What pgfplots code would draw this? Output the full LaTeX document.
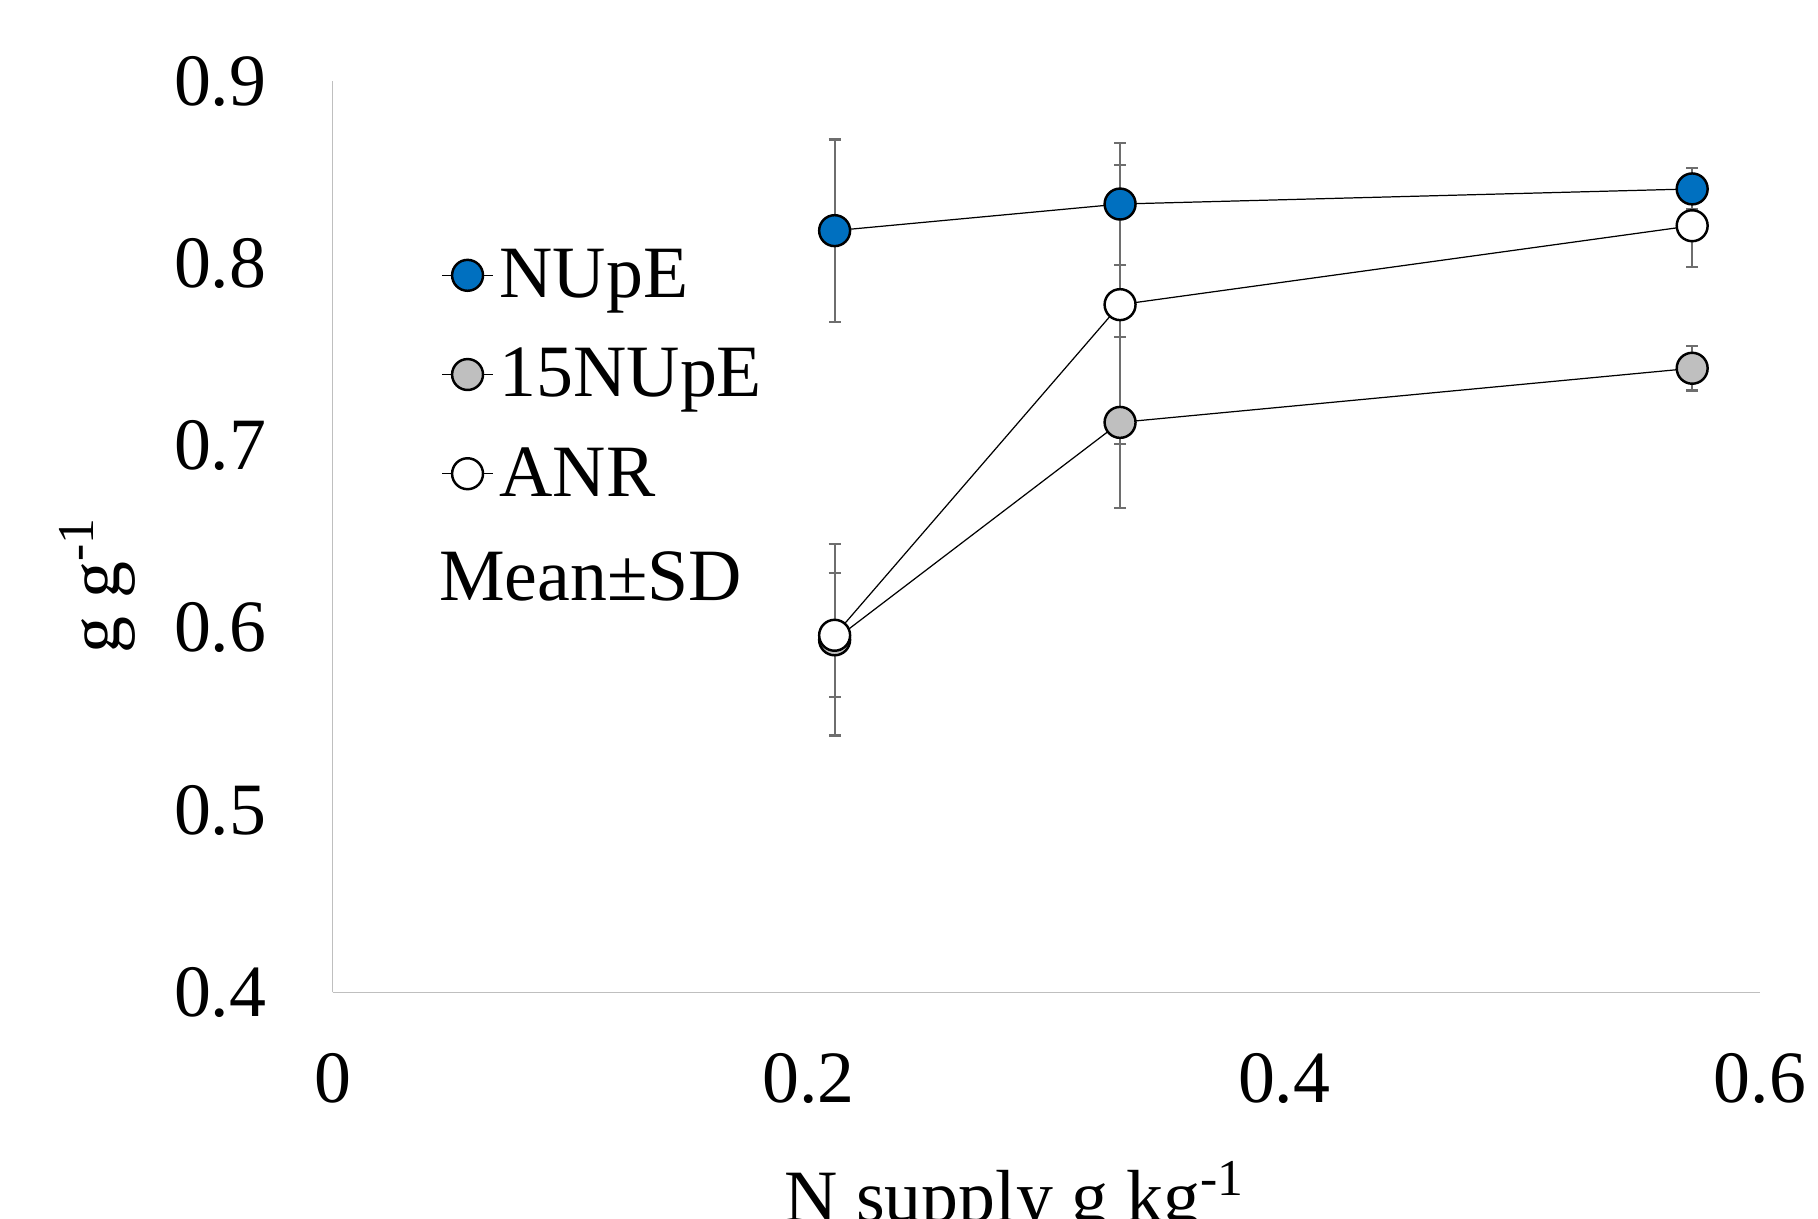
\documentclass[border=0pt]{standalone}
\usepackage{fontspec}
\setmainfont{Liberation Serif}
\usepackage{pgfplots}
\pgfplotsset{compat=1.18}
\definecolor{nupe}{HTML}{0070C0}
\definecolor{grayfill}{HTML}{BFBFBF}
\definecolor{axisgray}{HTML}{BFBFBF}
\definecolor{errgray}{HTML}{6E6E6E}
\newcommand{\fs}{\fontsize{21}{25}\selectfont}
\pgfplotstableread{
x y e
0.211 0.818 0.050
0.331 0.8326 0.0335
0.5715 0.8409 0.0113
}\nupe
\pgfplotstableread{
x y e
0.211 0.5935 0.0525
0.331 0.7128 0.047
0.5715 0.7425 0.0122
}\fnupe
\pgfplotstableread{
x y e
0.211 0.596 0.034
0.331 0.7774 0.0764
0.5715 0.8207 0.0228
}\anr
\begin{document}
\begin{tikzpicture}
\begin{axis}[
 width=142.73mm, height=91.13mm, scale only axis,
 xmin=0, xmax=0.6, ymin=0.4, ymax=0.9,
 axis x line=bottom, axis y line=left,
 axis line style={-, draw=axisgray, line width=0.4pt},
 xtick={0,0.2,0.4,0.6}, xticklabels={0,0.2,0.4,0.6},
 ytick={0.4,0.5,0.6,0.7,0.8,0.9}, yticklabels={0.4,0.5,0.6,0.7,0.8,0.9},
 major tick length=0pt,
 tick label style={font=\fs},
 xticklabel style={inner sep=0pt, anchor=north, yshift=-6.05mm},
 yticklabel style={inner sep=0pt, anchor=east, xshift=-6.57mm},
 xlabel={N supply g kg\textsuperscript{-1}},
 xlabel style={font=\fs, at={(axis description cs:0.478,0)}, anchor=base, yshift=-22.95mm},
 ylabel={g g\textsuperscript{-1}},
 ylabel style={font=\fs, at={([xshift=-21.27mm]axis description cs:0,0.447)}, anchor=base},
 legend style={draw=none, fill=none, inner sep=0pt, at={(axis description cs:0.0757,0.8345)}, anchor=north west, font=\fs, row sep=0pt, column sep=0.6mm, nodes={inner sep=0pt, text height=6.5mm, text depth=3.42mm}},
 legend cell align=left,
 legend image code/.code={\draw[yshift=0.7mm,mark repeat=2,mark phase=2,#1] plot coordinates {(0mm,0mm) (2.55mm,0mm) (5.1mm,0mm)};},
 clip=false,
]
% error bars first, behind all markers
\addplot[draw=none, no marks, forget plot, error bars/.cd, y dir=both, y explicit,
  error bar style={draw=errgray, line width=0.6pt},
  error mark options={rotate=90, mark size=0.6mm, draw=errgray, line width=0.6pt}]
  table[x=x, y=y, y error=e] {\nupe};
\addplot[draw=none, no marks, forget plot, error bars/.cd, y dir=both, y explicit,
  error bar style={draw=errgray, line width=0.6pt},
  error mark options={rotate=90, mark size=0.6mm, draw=errgray, line width=0.6pt}]
  table[x=x, y=y, y error=e] {\fnupe};
\addplot[draw=none, no marks, forget plot, error bars/.cd, y dir=both, y explicit,
  error bar style={draw=errgray, line width=0.6pt},
  error mark options={rotate=90, mark size=0.6mm, draw=errgray, line width=0.6pt}]
  table[x=x, y=y, y error=e] {\anr};
% lines and markers
\addplot[black, line width=0.35pt, mark=*, mark size=4.4pt, mark options={fill=nupe, draw=black, line width=0.7pt}] table[x=x, y=y] {\nupe};
\addlegendentry{NUpE}
\addplot[black, line width=0.35pt, mark=*, mark size=4.4pt, mark options={fill=grayfill, draw=black, line width=0.7pt}] table[x=x, y=y] {\fnupe};
\addlegendentry{15NUpE}
\addplot[black, line width=0.35pt, mark=*, mark size=4.4pt, mark options={fill=white, draw=black, line width=0.7pt}] table[x=x, y=y] {\anr};
\addlegendentry{ANR}
\node[anchor=base west, font=\fs, inner sep=0pt] at (axis description cs:0.074,0.4307) {Mean±SD};
\end{axis}
\pgfresetboundingbox
\path[use as bounding box] (-33.27mm,-22.65mm) rectangle (148.53mm,99.25mm);
\end{tikzpicture}
\end{document}
